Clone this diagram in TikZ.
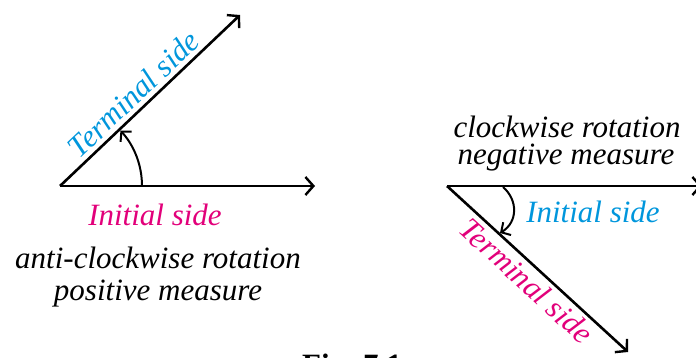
\documentclass[tikz,border=0pt]{standalone}
\usepackage{fontspec}
\setmainfont{Liberation Serif}
\usetikzlibrary{arrows.meta,calc}
\definecolor{cyanT}{RGB}{0,150,220}
\definecolor{magT}{RGB}{226,0,122}
\tikzset{
  side/.style={line width=2.6pt, -{Straight Barb[length=8pt,width=18pt,line width=2.4pt]}},
  turn/.style={line width=2pt, -{Straight Barb[length=7pt,width=15pt,line width=2pt]}},
  lbl/.style={font=\fontsize{31}{36}\selectfont\itshape, inner sep=0pt},
}
\begin{document}
\begin{tikzpicture}[x=1pt,y=-1pt]
\useasboundingbox (0,0) rectangle (696,358);
% left figure
\coordinate (O1) at (60,186);
\coordinate (I1) at (315,186);
\coordinate (T1) at (240,15);
\draw[side] (O1) -- (I1);
\draw[side] (O1) -- (T1);
\coordinate (A1s) at (142,186);
\draw[turn] (A1s) arc[start angle=0, end angle=-42.5, radius=82];
\node[lbl, text=cyanT, rotate=43.5, anchor=south, inner sep=5pt] (term1) at ($(O1)!0.47!(T1)$) {Terminal side};
\node[lbl, text=magT] (init1) at (155,215) {Initial side};
\node[lbl] (acw) at (158,258) {anti-clockwise rotation};
\node[lbl] (pos) at (158,294) {positive measure};
% right figure
\coordinate (O2) at (447,186);
\coordinate (I2) at (702,186);
\coordinate (T2) at (628,352);
\draw[side] (O2) -- (I2);
\draw[side] (O2) -- (T2);
\coordinate (A2s) at (503,187);
\coordinate (A2e) at (500,233);
\draw[turn] (A2s) .. controls (518,200) and (518,222) .. (A2e);
\node[lbl] (cw) at (567,127) {clockwise rotation};
\node[lbl] (neg) at (566,158) {negative measure};
\node[lbl, text=cyanT] (init2) at (593,212) {Initial side};
\node[lbl, text=magT, rotate=-42.5, anchor=north, inner sep=5pt] (term2) at ($(O2)!0.5!(T2)$) {Terminal side};
\node[font=\fontsize{31}{36}\selectfont\bfseries, anchor=north, inner sep=0pt] (fig) at (352,354) {Fig. 7.1};
\end{tikzpicture}
\end{document}
